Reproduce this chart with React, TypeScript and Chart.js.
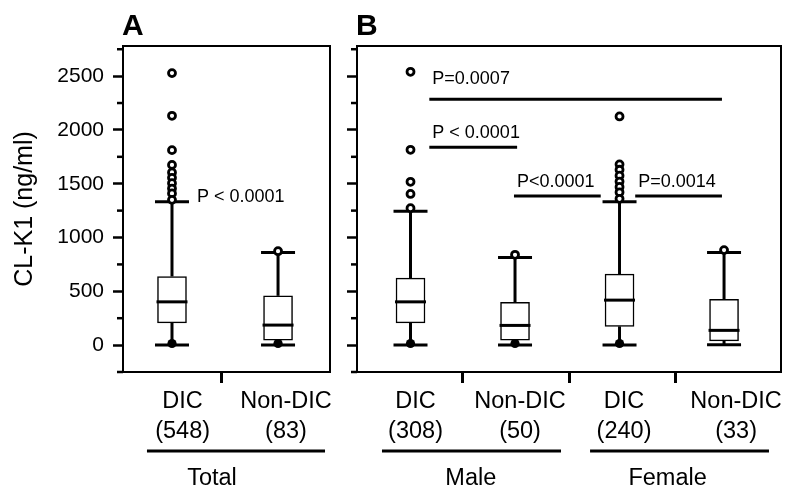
import React, { useEffect, useRef } from 'react';
import { Chart, registerables } from 'chart.js';

Chart.register(...registerables);

const FONT = "'Liberation Sans', Arial, Helvetica, sans-serif";

// ---------- Panel A : Total ----------
const totalCategories = [['DIC', '(548)'], ['Non-DIC', '(83)']];
const totalQ1 = [207, 46];
const totalMedian = [402, 186];
const totalQ3 = [638, 458];
const totalWhiskerLow = [0, 0];
const totalWhiskerHigh = [1332, 861];
const totalOutliers = [
  [2528, 2131, 1812, 1675, 1605, 1555, 1505, 1455, 1410, 1350],
  [873],
];
const totalLowDots: (number | null)[] = [15, 15];
const totalSigLabels = ['P < 0.0001'];
const totalSigFrom = [1.236];
const totalSigTo: (number | null)[] = [null];
const totalSigLineY: (number | null)[] = [null];
const totalSigTextY = [1377];
const totalGroups = ['Total'];
const totalGroupFrom = [0.764];
const totalGroupTo = [2.443];
const totalGroupText = [1.377];

// ---------- Panel B : Male / Female ----------
const sexCategories = [['DIC', '(308)'], ['Non-DIC', '(50)'], ['DIC', '(240)'], ['Non-DIC', '(33)']];
const sexQ1 = [207, 46, 174, 40];
const sexMedian = [402, 183, 418, 137];
const sexQ3 = [623, 397, 660, 425];
const sexWhiskerLow = [0, 0, 0, 3];
const sexWhiskerHigh = [1245, 815, 1332, 861];
const sexOutliers = [
  [2540, 1815, 1518, 1405, 1273],
  [839],
  [2125, 1680, 1630, 1575, 1520, 1470, 1420, 1360],
  [883],
];
const sexLowDots: (number | null)[] = [15, 15, 15, null];
const sexSigLabels = ['P=0.0007', 'P < 0.0001', 'P<0.0001', 'P=0.0014'];
const sexSigFrom = [1.18, 1.18, 1.99, 3.15];
const sexSigTo: (number | null)[] = [3.98, 2.02, 2.82, 3.98];
const sexSigLineY: (number | null)[] = [2286, 1840, 1385, 1385];
const sexSigTextY = [2472, 1970, 1515, 1515];
const sexGroups = ['Male', 'Female'];
const sexGroupFrom = [0.727, 2.718];
const sexGroupTo = [2.44, 4.43];
const sexGroupText = [1.577, 3.46];

// y axis
const yMin = -250;
const yMax = 2780;
const yStep = 250;
const yLabelStep = 500;
const yTitle = 'CL-K1 (ng/ml)';

type Panel = {
  letter: string;
  categories: string[][];
  q1: number[];
  median: number[];
  q3: number[];
  lo: number[];
  hi: number[];
  outliers: number[][];
  lowDots: (number | null)[];
  sigLabels: string[];
  sigFrom: number[];
  sigTo: (number | null)[];
  sigLineY: (number | null)[];
  sigTextY: number[];
  groups: string[];
  groupFrom: number[];
  groupTo: number[];
  groupText: number[];
  // layout
  xMin: number;
  xMax: number;
  areaLeft: number;
  areaRight: number;
  labelNudge: number[];
  dividers: number[];
  showYLabels: boolean;
};

const W = 788;
const H = 493;
const AREA_TOP = 46;
const AREA_BOTTOM = 372;

function makeDecorPlugin(p: Panel) {
  const line = (ctx: CanvasRenderingContext2D, x1: number, y1: number, x2: number, y2: number) => {
    ctx.beginPath();
    ctx.moveTo(x1, y1);
    ctx.lineTo(x2, y2);
    ctx.stroke();
  };
  return {
    id: 'boxDecor' + p.letter,
    beforeDatasetsDraw(chart: any) {
      const ctx: CanvasRenderingContext2D = chart.ctx;
      const xs = chart.scales.x;
      const ys = chart.scales.y;
      ctx.save();
      ctx.strokeStyle = '#000';
      ctx.lineWidth = 3;
      p.q1.forEach((q1, i) => {
        const cx = xs.getPixelForValue(i + 1);
        const yLo = ys.getPixelForValue(p.lo[i]);
        const yHi = ys.getPixelForValue(p.hi[i]);
        const yQ1 = ys.getPixelForValue(q1);
        const yQ3 = ys.getPixelForValue(p.q3[i]);
        line(ctx, cx, yHi, cx, yQ3);
        line(ctx, cx, yQ1, cx, yLo);
        line(ctx, cx - 17, yHi, cx + 17, yHi);
        line(ctx, cx - 17, yLo, cx + 17, yLo);
      });
      ctx.restore();
    },
    afterDatasetsDraw(chart: any) {
      const ctx: CanvasRenderingContext2D = chart.ctx;
      const xs = chart.scales.x;
      const ys = chart.scales.y;
      const area = chart.chartArea;
      ctx.save();
      ctx.strokeStyle = '#000';
      ctx.fillStyle = '#000';
      // medians
      ctx.lineWidth = 3;
      p.median.forEach((m, i) => {
        const cx = xs.getPixelForValue(i + 1);
        const y = ys.getPixelForValue(m);
        line(ctx, cx - 15.5, y, cx + 15.5, y);
      });
      // frame
      ctx.lineWidth = 2;
      ctx.strokeRect(area.left, area.top, area.right - area.left, area.bottom - area.top);
      // minor y ticks
      ctx.lineWidth = 2.5;
      for (let v = yMin; v < yMax; v += yStep) {
        if (v >= 0 && v % yLabelStep === 0) continue;
        const y = ys.getPixelForValue(v);
        line(ctx, area.left - 6, y, area.left, y);
      }
      // significance annotations
      ctx.font = `18px ${FONT}`;
      ctx.textAlign = 'left';
      ctx.textBaseline = 'middle';
      p.sigLabels.forEach((lab, i) => {
        const x1 = xs.getPixelForValue(p.sigFrom[i]);
        const to = p.sigTo[i];
        const ly = p.sigLineY[i];
        if (to !== null && ly !== null) {
          ctx.lineWidth = 3;
          line(ctx, x1, ys.getPixelForValue(ly), xs.getPixelForValue(to), ys.getPixelForValue(ly));
        }
        ctx.fillText(lab, x1 + (to !== null ? 3 : 0), ys.getPixelForValue(p.sigTextY[i]));
      });
      // panel letter
      ctx.font = `bold 30px ${FONT}`;
      ctx.textBaseline = 'alphabetic';
      ctx.fillText(p.letter, area.left - 1, area.top - 11);
      // group labels below the axis
      ctx.font = `23.5px ${FONT}`;
      ctx.textAlign = 'center';
      p.groups.forEach((g, i) => {
        ctx.lineWidth = 3;
        const y = area.bottom + 79;
        line(ctx, xs.getPixelForValue(p.groupFrom[i]), y, xs.getPixelForValue(p.groupTo[i]), y);
        ctx.fillText(g, xs.getPixelForValue(p.groupText[i]), area.bottom + 113);
      });
      ctx.restore();
    },
  };
}

function buildChart(canvas: HTMLCanvasElement, p: Panel) {
  const boxes = p.q1.map((q1, i) => ({ x: i + 1, y: [q1, p.q3[i]] }));
  const outlierPts: { x: number; y: number }[] = [];
  p.outliers.forEach((arr, i) => arr.forEach((v) => outlierPts.push({ x: i + 1, y: v })));
  const dotPts: { x: number; y: number }[] = [];
  p.lowDots.forEach((v, i) => {
    if (v !== null) dotPts.push({ x: i + 1, y: v });
  });

  const tickDefs: { value: number; label: string | string[]; divider: boolean }[] = [];
  p.categories.forEach((c, i) => tickDefs.push({ value: i + 1 + p.labelNudge[i], label: c, divider: false }));
  p.dividers.forEach((d) => tickDefs.push({ value: d, label: '', divider: true }));
  tickDefs.sort((a, b) => a.value - b.value);

  const isMajor = (v: number) => v >= 0 && v % yLabelStep === 0;

  return new Chart(canvas, {
    type: 'bar',
    data: {
      datasets: [
        {
          type: 'scatter',
          data: outlierPts,
          pointRadius: 3.5,
          pointHoverRadius: 3.5,
          pointBorderWidth: 2.8,
          pointBackgroundColor: '#fff',
          pointBorderColor: '#000',
        } as any,
        {
          type: 'scatter',
          data: dotPts,
          pointRadius: 4.6,
          pointHoverRadius: 4.6,
          pointBorderWidth: 0,
          pointBackgroundColor: '#000',
          pointBorderColor: '#000',
        } as any,
        {
          type: 'bar',
          data: boxes as any,
          backgroundColor: '#fff',
          borderColor: '#000',
          borderWidth: 1.5,
          borderSkipped: false,
          barThickness: 29,
          grouped: false,
        } as any,
      ],
    },
    options: {
      animation: false,
      responsive: false,
      devicePixelRatio: 1,
      events: [],
      layout: { padding: { left: 0, top: AREA_TOP, right: W - p.areaRight, bottom: 0 } },
      plugins: { legend: { display: false }, tooltip: { enabled: false } },
      scales: {
        x: {
          type: 'linear',
          min: p.xMin,
          max: p.xMax,
          offset: false,
          afterBuildTicks: (s: any) => {
            s.ticks = tickDefs.map((t) => ({ value: t.value }));
          },
          ticks: {
            autoSkip: false,
            maxRotation: 0,
            minRotation: 0,
            padding: 4,
            color: '#000',
            font: { family: FONT, size: 23.5, lineHeight: 1.25 },
            callback: (_v: any, i: number) => tickDefs[i].label,
          },
          grid: {
            drawOnChartArea: false,
            offset: false,
            tickLength: 11,
            tickWidth: 3,
            tickColor: (c: any) => (tickDefs[c.index] && tickDefs[c.index].divider ? '#000' : 'rgba(0,0,0,0)'),
          },
          border: { display: false },
          afterFit: (s: any) => {
            s.height = H - AREA_BOTTOM;
          },
        } as any,
        y: {
          type: 'linear',
          min: yMin,
          max: yMax,
          afterBuildTicks: (s: any) => {
            const t: { value: number }[] = [];
            for (let v = yMin; v < yMax; v += yStep) t.push({ value: v });
            s.ticks = t;
          },
          ticks: {
            stepSize: yStep,
            includeBounds: false,
            autoSkip: false,
            maxTicksLimit: 40,
            padding: 9,
            color: '#000',
            font: { family: FONT, size: 21, lineHeight: 1 },
            callback: (v: any) => (p.showYLabels && isMajor(Number(v)) ? String(v) : ''),
          },
          grid: {
            drawOnChartArea: false,
            tickLength: 10,
            tickWidth: 2.5,
            tickColor: (c: any) => (c.tick && isMajor(c.tick.value) ? '#000' : 'rgba(0,0,0,0)'),
          },
          border: { display: false },
          title: {
            display: p.showYLabels,
            text: yTitle,
            color: '#000',
            font: { family: FONT, size: 25 },
            padding: { top: 10, bottom: 0 },
          },
          afterFit: (s: any) => {
            s.width = p.areaLeft;
          },
        } as any,
      },
    },
    plugins: [makeDecorPlugin(p)],
  });
}

const panelA: Panel = {
  letter: 'A',
  categories: totalCategories,
  q1: totalQ1,
  median: totalMedian,
  q3: totalQ3,
  lo: totalWhiskerLow,
  hi: totalWhiskerHigh,
  outliers: totalOutliers,
  lowDots: totalLowDots,
  sigLabels: totalSigLabels,
  sigFrom: totalSigFrom,
  sigTo: totalSigTo,
  sigLineY: totalSigLineY,
  sigTextY: totalSigTextY,
  groups: totalGroups,
  groupFrom: totalGroupFrom,
  groupTo: totalGroupTo,
  groupText: totalGroupText,
  xMin: 0.538,
  xMax: 2.49,
  areaLeft: 123,
  areaRight: 330,
  labelNudge: [0.1, 0.075],
  dividers: [1.47],
  showYLabels: true,
};

const panelB: Panel = {
  letter: 'B',
  categories: sexCategories,
  q1: sexQ1,
  median: sexMedian,
  q3: sexQ3,
  lo: sexWhiskerLow,
  hi: sexWhiskerHigh,
  outliers: sexOutliers,
  lowDots: sexLowDots,
  sigLabels: sexSigLabels,
  sigFrom: sexSigFrom,
  sigTo: sexSigTo,
  sigLineY: sexSigLineY,
  sigTextY: sexSigTextY,
  groups: sexGroups,
  groupFrom: sexGroupFrom,
  groupTo: sexGroupTo,
  groupText: sexGroupText,
  xMin: 0.488,
  xMax: 4.545,
  areaLeft: 357,
  areaRight: 781,
  labelNudge: [0.048, 0.048, 0.043, 0.115],
  dividers: [1.5, 2.52, 3.54],
  showYLabels: false,
};

export default function App() {
  const refA = useRef<HTMLCanvasElement>(null);
  const refB = useRef<HTMLCanvasElement>(null);

  useEffect(() => {
    const charts: Chart[] = [];
    if (refA.current) charts.push(buildChart(refA.current, panelA));
    if (refB.current) charts.push(buildChart(refB.current, panelB));
    return () => charts.forEach((c) => c.destroy());
  }, []);

  const canvasStyle: React.CSSProperties = { position: 'absolute', left: 0, top: 0, width: W, height: H };
  return (
    <div style={{ position: 'absolute', left: 0, top: 0, width: W, height: H, background: '#fff' }}>
      <canvas ref={refA} width={W} height={H} style={canvasStyle} />
      <canvas ref={refB} width={W} height={H} style={canvasStyle} />
    </div>
  );
}
